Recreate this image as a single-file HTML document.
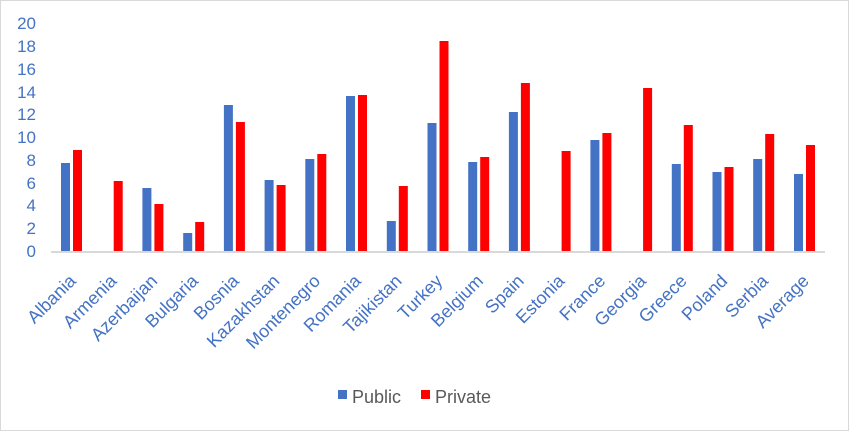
<!DOCTYPE html>
<html><head><meta charset="utf-8"><style>
html,body{margin:0;padding:0;background:#fff;}
svg{display:block;font-family:"Liberation Sans",Calibri,sans-serif;}
</style></head><body>
<svg width="849" height="431" viewBox="0 0 849 431" xmlns="http://www.w3.org/2000/svg">
<rect x="0.5" y="0.5" width="848" height="430" fill="#fff" stroke="#d9d9d9"/>
<g fill="#4472C4" font-size="17" text-anchor="end">
<text x="36" y="29">20</text><text x="36" y="52">18</text><text x="36" y="75">16</text>
<text x="36" y="98">14</text><text x="36" y="120">12</text><text x="36" y="143">10</text>
<text x="36" y="166">8</text><text x="36" y="189">6</text><text x="36" y="211">4</text>
<text x="36" y="234">2</text><text x="36" y="257">0</text>
</g>
<g fill="#4472C4">
<rect x="61" y="163" width="9" height="88"/>
<rect x="142.4" y="188" width="9" height="63"/>
<rect x="183.2" y="233" width="9" height="18"/>
<rect x="223.9" y="105" width="9" height="146"/>
<rect x="264.6" y="180" width="9" height="71"/>
<rect x="305.3" y="159" width="9" height="92"/>
<rect x="346" y="96" width="9" height="155"/>
<rect x="386.8" y="221" width="9" height="30"/>
<rect x="427.5" y="123" width="9" height="128"/>
<rect x="468.2" y="162" width="9" height="89"/>
<rect x="508.9" y="112" width="9" height="139"/>
<rect x="590.4" y="140" width="9" height="111"/>
<rect x="671.8" y="164" width="9" height="87"/>
<rect x="712.5" y="172" width="9" height="79"/>
<rect x="753.2" y="159" width="9" height="92"/>
<rect x="794" y="174" width="9" height="77"/>
</g>
<g fill="#ff0000">
<rect x="73" y="150" width="9" height="101"/>
<rect x="113.7" y="181" width="9" height="70"/>
<rect x="154.4" y="204" width="9" height="47"/>
<rect x="195.2" y="222" width="9" height="29"/>
<rect x="235.9" y="122" width="9" height="129"/>
<rect x="276.6" y="185" width="9" height="66"/>
<rect x="317.3" y="154" width="9" height="97"/>
<rect x="358" y="95" width="9" height="156"/>
<rect x="398.8" y="186" width="9" height="65"/>
<rect x="439.5" y="41" width="9" height="210"/>
<rect x="480.2" y="157" width="9" height="94"/>
<rect x="520.9" y="83" width="9" height="168"/>
<rect x="561.6" y="151" width="9" height="100"/>
<rect x="602.4" y="133" width="9" height="118"/>
<rect x="643.1" y="88" width="9" height="163"/>
<rect x="683.8" y="125" width="9" height="126"/>
<rect x="724.5" y="167" width="9" height="84"/>
<rect x="765.2" y="134" width="9" height="117"/>
<rect x="806" y="145" width="9" height="106"/>
</g>
<line x1="51" y1="252" x2="825" y2="252" stroke="#d9d9d9" stroke-width="2"/>
<g fill="#4472C4" font-size="18" text-anchor="end">
<text transform="translate(77,282) rotate(-45)">Albania</text>
<text transform="translate(117.7,282) rotate(-45)">Armenia</text>
<text transform="translate(158.4,282) rotate(-45)">Azerbaijan</text>
<text transform="translate(199.2,282) rotate(-45)">Bulgaria</text>
<text transform="translate(239.9,282) rotate(-45)">Bosnia</text>
<text transform="translate(280.6,282) rotate(-45)">Kazakhstan</text>
<text transform="translate(321.3,282) rotate(-45)">Montenegro</text>
<text transform="translate(362,282) rotate(-45)">Romania</text>
<text transform="translate(402.8,282) rotate(-45)">Tajikistan</text>
<text transform="translate(443.5,282) rotate(-45)">Turkey</text>
<text transform="translate(484.2,282) rotate(-45)">Belgium</text>
<text transform="translate(524.9,282) rotate(-45)">Spain</text>
<text transform="translate(565.6,282) rotate(-45)">Estonia</text>
<text transform="translate(606.4,282) rotate(-45)">France</text>
<text transform="translate(647.1,282) rotate(-45)">Georgia</text>
<text transform="translate(687.8,282) rotate(-45)">Greece</text>
<text transform="translate(728.5,282) rotate(-45)">Poland</text>
<text transform="translate(769.2,282) rotate(-45)">Serbia</text>
<text transform="translate(810,282) rotate(-45)">Average</text>
</g>
<rect x="338" y="390" width="9" height="9" fill="#4472C4"/>
<text x="352" y="403" font-size="18" fill="#595959">Public</text>
<rect x="421" y="390" width="9" height="9" fill="#ff0000"/>
<text x="435" y="403" font-size="18" fill="#595959">Private</text>
</svg>
</body></html>
